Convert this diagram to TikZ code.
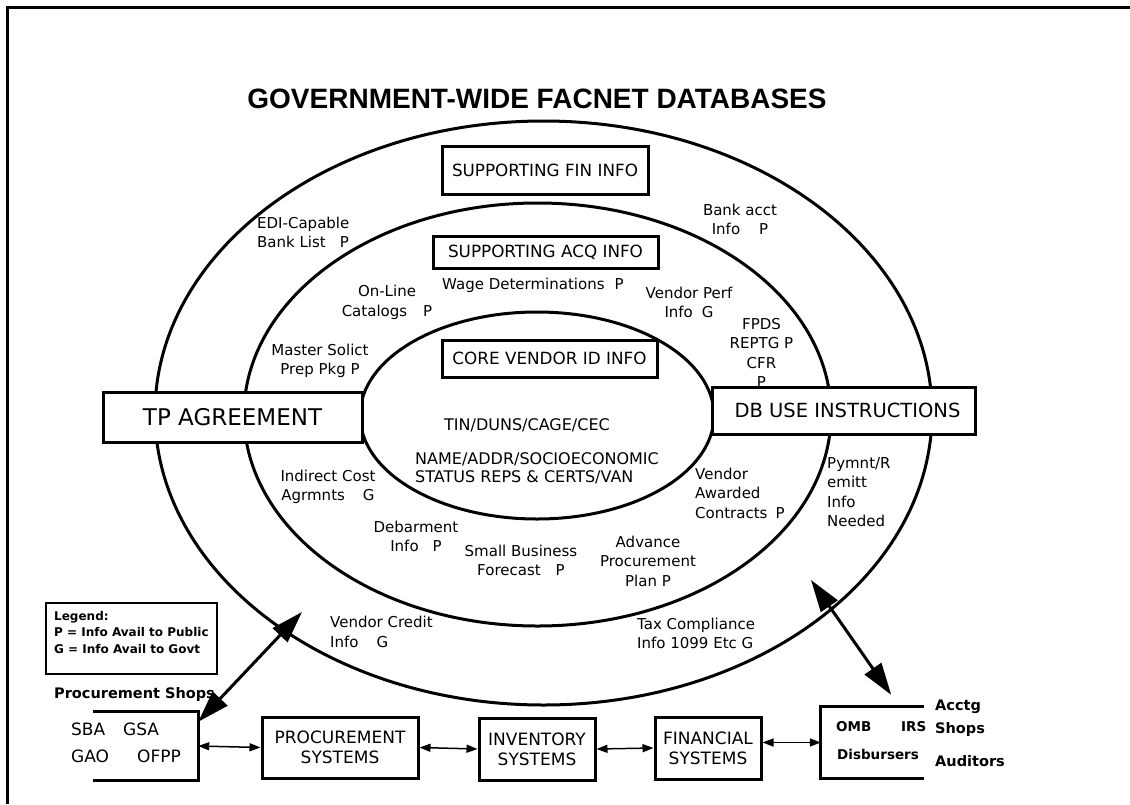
\documentclass[tikz,border=0pt]{standalone}
\usepackage{fontspec}
\setmainfont{DejaVu Sans}
\newfontfamily\titlefont{Liberation Sans}
\usetikzlibrary{arrows.meta}
\begin{document}
\begin{tikzpicture}[x=1pt,y=-1pt,
  ell/.style={line width=3pt},
  box/.style={draw, line width=3pt, fill=white, inner sep=0pt, align=center},
  sysbox/.style={draw, line width=3pt, fill=white, inner sep=0pt, align=center, font=\fontsize{17}{20}\selectfont},
  openbox/.style={draw=none, inner sep=0pt},
  boxline/.style={line width=3pt},
  lbl/.style={inner sep=0pt, align=center, font=\fontsize{15}{19.5}\selectfont},
  lbll/.style={lbl, anchor=west, align=left},
  corelbl/.style={inner sep=0pt, font=\fontsize{16}{18}\selectfont},
  boldlbl/.style={inner sep=0pt, anchor=west, font=\bfseries\fontsize{14.5}{17}\selectfont},
  botlbl/.style={inner sep=0pt, anchor=west, font=\fontsize{17}{20}\selectfont},
  sarr/.style={line width=1.5pt, {Triangle[length=11pt,width=8pt]}-{Triangle[length=11pt,width=8pt]}},
  barr/.style={line width=3pt, {Triangle[length=32pt,width=20pt]}-{Triangle[length=32pt,width=20pt]}}
]
\path[use as bounding box] (0,0) rectangle (1130,804);
% frame
\draw[line width=3pt] (7,804) -- (7,7) -- (1130,7);

% title
\node (title) at (537,99) {\titlefont\bfseries\fontsize{28}{30}\selectfont GOVERNMENT-WIDE FACNET DATABASES};

% ellipses
\draw[ell] (543.5,413) ellipse [x radius=388.5pt, y radius=292pt];
\draw[ell] (537.5,414.5) ellipse [x radius=293.5pt, y radius=211.5pt];
\draw[ell] (537,415.5) ellipse [x radius=177pt, y radius=103.5pt];

% labels in rings
\node[lbll] (edi) at (257,232.5) {EDI-Capable\\Bank List\hspace{14pt}P};
\node[lbl] (online) at (387,302.5) {On-Line\\Catalogs\hspace{16pt}P};
\node[lbl] (master) at (320,361) {Master Solict\\Prep Pkg P};
\node[lbll] (wage) at (442,285) {Wage Determinations\hspace{10pt}P};
\node[lbl] (bank) at (740,219.5) {Bank acct\\Info\hspace{19pt}P};
\node[lbl] (vperf) at (689,302.5) {Vendor Perf\\Info\hspace{9pt}G};
\node[lbl] (fpds) at (761.5,353) {FPDS\\REPTG P\\CFR\\P};
\node[lbl] (indirect) at (328,487) {Indirect Cost\\Agrmnts\hspace{18pt}G};
\node[lbl] (debar) at (416,536.5) {Debarment\\Info\hspace{14pt}P};
\node[lbl] (small) at (521,560.5) {Small Business\\Forecast\hspace{15pt}P};
\node[lbll] (awarded) at (695,493) {Vendor\\Awarded\\Contracts\hspace{8pt}P};
\node[lbll] (pymnt) at (827,492) {Pymnt/R\\emitt\\Info\\Needed};
\node[lbl] (advance) at (648,561) {Advance\\Procurement\\Plan P};
\node[lbll] (credit) at (330,632) {Vendor Credit\\Info\hspace{18pt}G};
\node[lbll] (tax) at (637,633.5) {Tax Compliance\\Info 1099 Etc G};

% core text
\node[corelbl] (tin) at (527,425) {TIN/DUNS/CAGE/CEC};
\node[corelbl, anchor=west, align=left] (name) at (415,468) {NAME/ADDR/SOCIOECONOMIC\\STATUS REPS \& CERTS/VAN};

% boxes
\node[box, minimum width=206pt, minimum height=48pt, font=\fontsize{16.8}{18}\selectfont] (finfo) at (545,170) {SUPPORTING FIN INFO};
\node[box, minimum width=225pt, minimum height=32pt, font=\fontsize{16.8}{18}\selectfont] (acq) at (545.5,252) {SUPPORTING ACQ INFO};
\node[box, fill=none, minimum width=215pt, minimum height=37pt, font=\fontsize{16.8}{18}\selectfont] (core) at (549.5,358.5) {CORE VENDOR ID INFO};
\node[box, minimum width=259pt, minimum height=50pt, font=\fontsize{23}{25}\selectfont] (tp) at (232.5,417) {TP AGREEMENT};
\node[box, minimum width=263pt, minimum height=47pt, font=\fontsize{19.5}{21}\selectfont] (db) at (843.5,410.5) {\hspace{8pt}DB USE INSTRUCTIONS};

% legend
\node[draw, line width=2pt, minimum width=171pt, minimum height=71pt, inner sep=0pt] (legend) at (131.5,638.5) {};
\node[inner sep=0pt, anchor=west, align=left, font=\bfseries\fontsize{12}{16.5}\selectfont] (legendtxt) at (54,632.5) {Legend:\\P = Info Avail to Public\\G = Info Avail to Govt};

% bottom row
\node[inner sep=0pt, anchor=west, font=\bfseries\fontsize{14.5}{17}\selectfont] (pshops) at (54,694) {Procurement Shops};
\node[openbox, minimum width=105pt, minimum height=68pt] (shops) at (145.5,746) {};
\draw[boxline] (shops.north west) -- (shops.north east) -- (shops.south east) -- (shops.south west);
\node[botlbl] (sba) at (71,729) {SBA};
\node[botlbl] (gsa) at (123,729) {GSA};
\node[botlbl] (gao) at (71,756) {GAO};
\node[botlbl] (ofpp) at (137,756) {OFPP};

\node[sysbox, minimum width=156pt, minimum height=61pt] (procsys) at (340,747.5) {PROCUREMENT\\SYSTEMS};
\node[sysbox, minimum width=116pt, minimum height=62pt] (inv) at (537,749) {INVENTORY\\SYSTEMS};
\node[sysbox, minimum width=106pt, minimum height=62pt] (finsys) at (708,748) {FINANCIAL\\SYSTEMS};

\node[openbox, minimum width=103pt, minimum height=71pt] (omb) at (872.5,742.5) {};
\draw[boxline] (omb.north east) -- (omb.north west) -- (omb.south west) -- (omb.south east);
\node[boldlbl, font=\bfseries\fontsize{13.5}{16}\selectfont] (ombt) at (836,727) {OMB};
\node[boldlbl, font=\bfseries\fontsize{13.5}{16}\selectfont] (irs) at (901,727) {IRS};
\node[boldlbl, font=\bfseries\fontsize{13.5}{16}\selectfont] (disb) at (837,754) {Disbursers};
\node[boldlbl] (acctg) at (935,707) {Acctg};
\node[boldlbl] (ashops) at (935,729) {Shops};
\node[boldlbl] (auditors) at (935,761) {Auditors};

% connectors
\draw[sarr] (shops.east) -- (procsys.west);
\draw[sarr] (procsys.east) -- (inv.west);
\draw[sarr] (inv.east) -- (finsys.west);
\draw[sarr] (omb.west -| finsys.east) -- (omb.west);

\coordinate (lb) at (302,612);
\draw[barr] ([yshift=-10pt]shops.north east) -- (lb);
\coordinate (ra) at (811,580);
\draw[barr] (ra) -- ([xshift=-33pt,yshift=12pt]omb.north east);
\end{tikzpicture}
\end{document}
